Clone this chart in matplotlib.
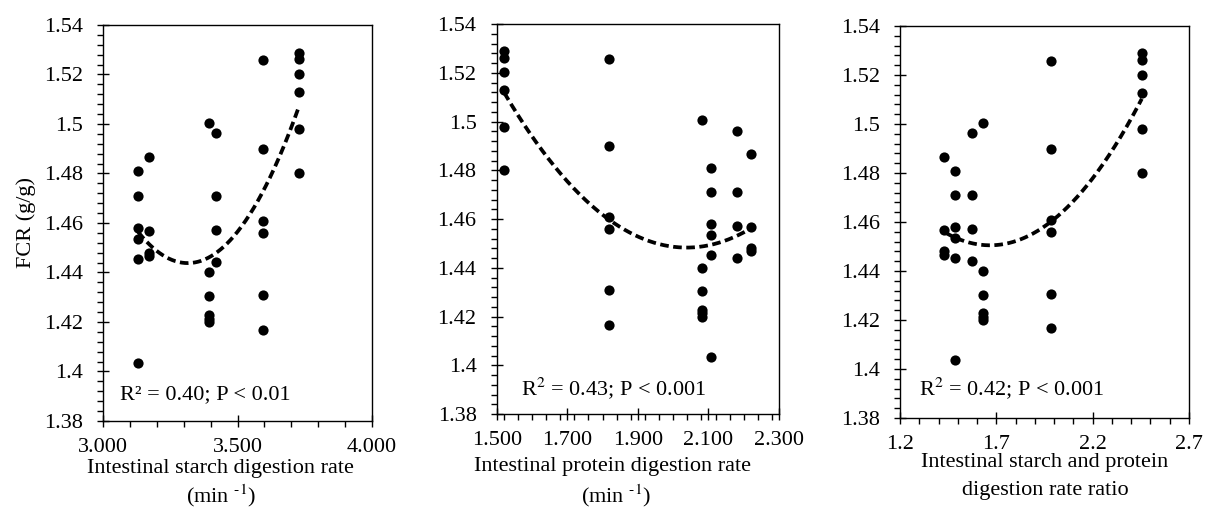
import numpy as np
import matplotlib
matplotlib.use("Agg")
import matplotlib.pyplot as plt
from matplotlib.ticker import MultipleLocator, FixedLocator

plt.rcParams['font.family'] = ['Liberation Serif', 'DejaVu Serif']
plt.rcParams['mathtext.fontset'] = 'stix'

# FCR values (g/g), grouped by treatment
fcr = [1.481, 1.471, 1.458, 1.4535, 1.4454, 1.4036,      # group A
       1.4867, 1.4568, 1.448, 1.4467,                    # group B
       1.5005, 1.440, 1.4304, 1.4227, 1.4214, 1.4198,    # group C
       1.4963, 1.471, 1.4571, 1.4442,                    # group D
       1.5258, 1.4898, 1.4607, 1.4558, 1.4308, 1.4167,   # group E
       1.5288, 1.5263, 1.5202, 1.5128, 1.4978, 1.480]    # group F
group_sizes = [6, 4, 6, 4, 6, 6]

starch_rate = [3.131, 3.170, 3.394, 3.420, 3.594, 3.729]
protein_rate = [2.106, 2.220, 2.083, 2.182, 1.818, 1.521]
ratio = [1.487, 1.430, 1.630, 1.572, 1.983, 2.455]

# quadratic trend lines, vertex form y = a*(x-h)^2 + k
fit_a = [0.37, 0.238, 0.0963]
fit_h = [3.315, 2.038, 1.667]
fit_k = [1.4438, 1.4483, 1.4505]

stats_text = ["R\u00b2 = 0.40; P < 0.01",
              "R$^{2}$ = 0.43; P < 0.001",
              "R$^{2}$ = 0.42; P < 0.001"]
xlabel_line1 = ["Intestinal starch digestion rate",
                "Intestinal protein digestion rate",
                "Intestinal starch and protein"]
xlabel_line2 = ["(min $^{\u2010\\mathrm{1}}$)",
                "(min $^{\u2010\\mathrm{1}}$)",
                "digestion rate ratio"]
xlims = [(3.0, 4.0), (1.5, 2.3), (1.2, 2.7)]
xmajor = [[3.0, 3.5, 4.0], [1.5, 1.7, 1.9, 2.1, 2.3], [1.2, 1.7, 2.2, 2.7]]
xminor = [0.1, 0.04, 0.1]
xfmt = ["{:.3f}", "{:.3f}", "{:.1f}"]
ytick_vals = [1.38, 1.4, 1.42, 1.44, 1.46, 1.48, 1.5, 1.52, 1.54]
ytick_labels = ["1.38", "1.4", "1.42", "1.44", "1.46", "1.48", "1.5", "1.52", "1.54"]

W, H = 1205, 509
positions = [[0.0855, 0.1729, 0.2232, 0.778],
             [0.4122, 0.1866, 0.2343, 0.766],
             [0.7469, 0.1788, 0.2398, 0.770]]
text_pos = [(0.063, 0.066), (0.085, 0.067), (0.066, 0.077)]
# x-label line centres (pixels from left / top)
line1_px = [(220, 468), (613, 467), (1045, 462)]
line2_px = [(221, 496), (616, 496), (1045, 490)]

fig = plt.figure(figsize=(W / 100, H / 100), dpi=100)

xs_all = [starch_rate, protein_rate, ratio]
for i in range(3):
    ax = fig.add_axes(positions[i])
    x = np.repeat(xs_all[i], group_sizes)
    y = np.array(fcr)
    ax.scatter(x, y, s=54, color='black', zorder=3, linewidths=0)
    xx = np.linspace(x.min(), x.max(), 200)
    ax.plot(xx, fit_a[i] * (xx - fit_h[i]) ** 2 + fit_k[i], color='black', lw=2.7,
            linestyle=(0, (2.3, 1.2)), zorder=2)
    ax.set_xlim(*xlims[i])
    ax.set_ylim(1.38, 1.54)
    ax.xaxis.set_major_locator(FixedLocator(xmajor[i]))
    ax.set_xticklabels([xfmt[i].format(v) for v in xmajor[i]])
    ax.xaxis.set_minor_locator(MultipleLocator(xminor[i]))
    ax.yaxis.set_major_locator(FixedLocator(ytick_vals))
    ax.set_yticklabels(ytick_labels)
    ax.yaxis.set_minor_locator(MultipleLocator(0.004))
    ax.tick_params(which='major', direction='inout', length=9, width=1.0,
                   labelsize=16)
    ax.tick_params(axis='x', which='major', pad=8)
    ax.tick_params(axis='y', which='major', pad=10)
    ax.tick_params(which='minor', direction='out', length=4, width=1.0)
    for sp in ax.spines.values():
        sp.set_linewidth(1.0)
    l, b, w, h = positions[i]
    ax.set_xlabel(xlabel_line1[i], fontsize=16, va='center')
    ax.xaxis.set_label_coords((line1_px[i][0] / W - l) / w,
                              ((1 - line1_px[i][1] / H) - b) / h)
    fig.text(line2_px[i][0] / W, 1 - line2_px[i][1] / H, xlabel_line2[i],
             fontsize=16, ha='center', va='center')
    if i == 0:
        ax.set_ylabel("FCR (g/g)", fontsize=16, labelpad=6)
    ax.text(text_pos[i][0], text_pos[i][1], stats_text[i], transform=ax.transAxes,
            fontsize=16, va='center', ha='left')

fig.savefig("out.png", dpi=100)
